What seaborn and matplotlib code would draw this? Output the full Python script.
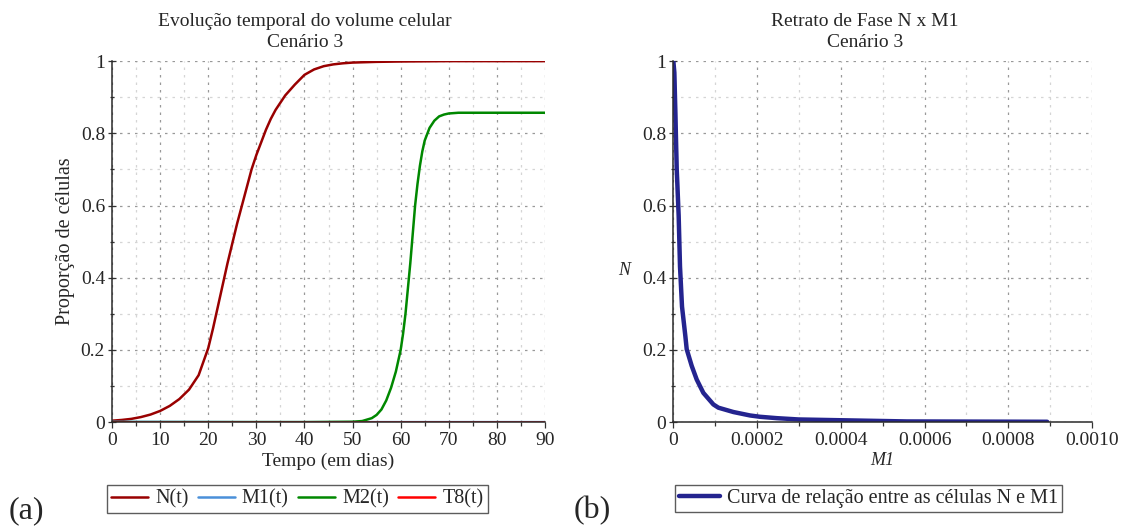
import numpy as np
import pandas as pd
import matplotlib
matplotlib.use("Agg")
import matplotlib.pyplot as plt
import seaborn as sns
from matplotlib.ticker import MultipleLocator

# --- dados (a) ---
t_N = [0, 2, 4, 6, 8, 10, 12, 14, 16, 18, 20, 21, 22, 23, 24, 25, 26, 27, 28, 29, 30,
       31, 32, 33, 34, 35, 36, 38, 40, 42, 44, 46, 48, 50, 55, 60, 70, 80, 90]
N_vals = [0.004, 0.006, 0.009, 0.014, 0.021, 0.031, 0.045, 0.064, 0.09, 0.13, 0.205,
          0.26, 0.32, 0.38, 0.44, 0.495, 0.55, 0.60, 0.65, 0.70, 0.74, 0.775, 0.81,
          0.84, 0.865, 0.885, 0.905, 0.935, 0.962, 0.977, 0.986, 0.991, 0.994, 0.996,
          0.998, 0.999, 1.0, 1.0, 1.0]

t_M2 = [0, 20, 40, 50, 52, 54, 55, 56, 57, 58, 59, 60, 60.5, 61, 61.5, 62, 62.5, 63,
        63.5, 64, 64.5, 65, 66, 67, 68, 69, 70, 72, 80, 90]
M2_vals = [0.0, 0.0, 0.0, 0.001, 0.003, 0.011, 0.02, 0.035, 0.06, 0.095, 0.14, 0.2,
           0.245, 0.3, 0.37, 0.44, 0.52, 0.6, 0.66, 0.71, 0.75, 0.78, 0.815, 0.835,
           0.847, 0.852, 0.855, 0.857, 0.857, 0.857]

t_flat = [0, 30, 60, 90]
M1_vals = [0.0009, 0.0, 0.0, 0.0]
T8_vals = [0.0, 0.0, 0.0, 0.0]

# --- dados (b) ---
M1_fase = [0.0, 0.0000024, 0.0000024, 0.0000048, 0.0000048, 0.000008, 0.000008,
           0.0000127, 0.0000127, 0.0000159, 0.0000207, 0.0000287, 0.0000319,
           0.0000438, 0.0000558, 0.0000717, 0.0000956, 0.0001076, 0.0001434,
           0.000183, 0.000207, 0.000247, 0.000299, 0.000382, 0.000558, 0.000893]
N_fase = [1.0, 0.99, 0.947, 0.94, 0.78, 0.77, 0.634, 0.62, 0.523, 0.431, 0.32, 0.238,
          0.202, 0.156, 0.118, 0.081, 0.049, 0.040, 0.028, 0.0185, 0.0148, 0.011,
          0.0074, 0.0056, 0.0019, 0.001]

sns.set_style("white")
plt.rcParams['font.family'] = ['Liberation Serif', 'DejaVu Serif']

fig = plt.figure(figsize=(11.26, 5.27), dpi=100)
ax1 = fig.add_axes([0.0995, 0.199, 0.3845, 0.685])
ax2 = fig.add_axes([0.598, 0.199, 0.3718, 0.685])

df_N = pd.DataFrame({'t': t_N, 'v': N_vals})
df_M2 = pd.DataFrame({'t': t_M2, 'v': M2_vals})
df_M1 = pd.DataFrame({'t': t_flat, 'v': M1_vals})
df_T8 = pd.DataFrame({'t': t_flat, 'v': T8_vals})

sns.lineplot(data=df_N, x='t', y='v', ax=ax1, color='#990000', lw=1.8, label='N(t)', zorder=2)
sns.lineplot(data=df_M1, x='t', y='v', ax=ax1, color='#4a90d9', lw=1.8, label='M1(t)', zorder=2)
sns.lineplot(data=df_M2, x='t', y='v', ax=ax1, color='#008800', lw=1.8, label='M2(t)', zorder=2)
sns.lineplot(data=df_T8, x='t', y='v', ax=ax1, color='#ff0000', lw=1.8, label='T8(t)', zorder=2)

df_fase = pd.DataFrame({'M1': M1_fase, 'N': N_fase})
sns.lineplot(data=df_fase, x='M1', y='N', ax=ax2, sort=False, color='#24248f', lw=3.2,
             label='Curva de relação entre as células N e M1')


def maple_axes(ax, xmax, xmaj, xmin):
    ax.set_xlim(0, xmax)
    ax.set_ylim(0, 1)
    for s in ['top', 'right']:
        ax.spines[s].set_visible(False)
    for s in ['left', 'bottom']:
        ax.spines[s].set_color('#2a2a2a')
        ax.spines[s].set_linewidth(1.1)
        ax.spines[s].set_zorder(3)
    ax.xaxis.set_major_locator(MultipleLocator(xmaj))
    ax.xaxis.set_minor_locator(MultipleLocator(xmin))
    ax.set_yticks([0, 0.2, 0.4, 0.6, 0.8, 1])
    ax.set_yticklabels(['0', '0.2', '0.4', '0.6', '0.8', '1'])
    ax.yaxis.set_minor_locator(MultipleLocator(0.1))
    ax.grid(True, which='major', color='#999999', ls=(0, (2, 4)), lw=0.9)
    ax.grid(True, which='minor', color='#d5d5d5', ls=(0, (2, 4)), lw=0.9)
    ax.tick_params(axis='x', which='both', direction='out', bottom=True, length=4,
                   width=0.9, color='#333333', labelsize=14, pad=3)
    ax.tick_params(axis='y', which='both', direction='inout', left=True, length=6,
                   width=0.9, color='#333333', labelsize=14, pad=2)
    ax.tick_params(axis='both', which='minor', length=3)


maple_axes(ax1, 90, 10, 5)
maple_axes(ax2, 0.001, 0.0002, 0.0001)
ax2.set_xticks([0, 0.0002, 0.0004, 0.0006, 0.0008, 0.001])
ax2.set_xticklabels(['0', '0.0002', '0.0004', '0.0006', '0.0008', '0.0010'])

fig.text(0.271, 0.976, "Evolução temporal do volume celular\nCenário 3", fontsize=14,
         linespacing=1.3, ha='center', va='top')
fig.text(0.768, 0.976, "Retrato de Fase N x M1\nCenário 3", fontsize=14,
         linespacing=1.3, ha='center', va='top')
ax1.set_xlabel("Tempo (em dias)", fontsize=14, labelpad=3)
ax1.set_ylabel("Proporção de células", fontsize=14.5, labelpad=4)
ax2.set_xlabel("M1", fontsize=13, style='italic', labelpad=2)
ax2.set_ylabel("N", fontsize=13, style='italic', rotation=0, va='center')
ax2.yaxis.set_label_coords(-0.117, 0.42)

leg1 = ax1.legend(loc='upper left', bbox_to_anchor=(-0.012, -0.175), ncol=4,
                  fontsize=14.5, frameon=True, fancybox=False, handlelength=1.85,
                  handletextpad=0.35, columnspacing=0.45, borderpad=0.2,
                  borderaxespad=0)
leg1.get_frame().set_edgecolor('#333333')
leg1.get_frame().set_linewidth(1.0)
leg2 = ax2.legend(loc='upper left', bbox_to_anchor=(0.005, -0.175), ncol=1,
                  fontsize=14.5, frameon=True, fancybox=False, handlelength=2.0,
                  handletextpad=0.35, borderpad=0.2, borderaxespad=0)
leg2.get_frame().set_edgecolor('#333333')
leg2.get_frame().set_linewidth(1.0)

fig.text(0.008, 0.017, "(a)", fontsize=23)
fig.text(0.509, 0.017, "(b)", fontsize=23)

fig.savefig("out.png", dpi=100)
